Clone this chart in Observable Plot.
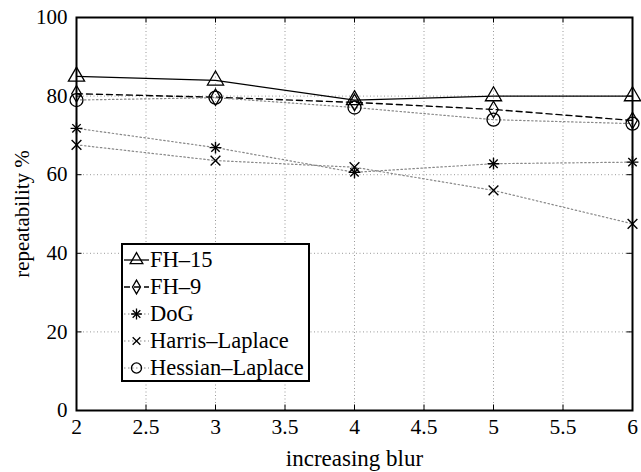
<!DOCTYPE html>
<html>
<head>
<meta charset="utf-8">
<script src="https://cdn.jsdelivr.net/npm/d3@7"></script>
<script src="https://cdn.jsdelivr.net/npm/@observablehq/plot@0.6"></script>
<style>
  html, body { margin: 0; padding: 0; background: #fff; }
  #wrap { position: relative; width: 641px; height: 472px; font-family: "Liberation Serif", serif; }
  #wrap svg text { font-family: "Liberation Serif", serif; }
  #legend { position: absolute; left: 121px; top: 243px; width: 185px; height: 135px;
    border: 2px solid #000; background: #fff; font-family: "Liberation Serif", serif; font-size: 22.5px; }
  .row { position: absolute; left: 0; height: 26px; display: flex; align-items: center; }
  .row svg { display: block; }
  .row span { margin-left: 0px; white-space: nowrap; }
</style>
</head>
<body>
<div id="wrap"></div>
<script>
const blur = [2, 3, 4, 5, 6];
const seriesNames = ["FH-15", "FH-9", "DoG", "Harris-Laplace", "Hessian-Laplace"];
const legendLabels = ["FH\u201315", "FH\u20139", "DoG", "Harris\u2013Laplace", "Hessian\u2013Laplace"];
const fh15 = [85, 84, 79, 80, 80];
const fh9 = [80.6, 79.7, 78.4, 76.6, 73.8];
const dog = [71.8, 66.9, 60.6, 62.8, 63.2];
const harris = [67.6, 63.6, 61.9, 56, 47.5];
const hessian = [79, 79.6, 77.1, 74, 73];
const xTicks = [2, 2.5, 3, 3.5, 4, 4.5, 5, 5.5, 6];
const yTicks = [0, 20, 40, 60, 80, 100];

const valuesBySeries = [fh15, fh9, dog, harris, hessian];
const rows = [];
seriesNames.forEach((s, i) => blur.forEach((b, j) => rows.push({series: s, blur: b, value: valuesBySeries[i][j]})));
const only = s => rows.filter(d => d.series === s);

const styles = {
  "FH-15": {stroke: "#000", strokeWidth: 1.3},
  "FH-9": {stroke: "#000", strokeWidth: 1.4, strokeDasharray: "6,4"},
  "DoG": {stroke: "#888", strokeWidth: 1.2, strokeDasharray: "1.5,2.5"},
  "Harris-Laplace": {stroke: "#888", strokeWidth: 1.2, strokeDasharray: "1.5,2.5"},
  "Hessian-Laplace": {stroke: "#888", strokeWidth: 1.2, strokeDasharray: "1.5,2.5"}
};

const font = "Liberation Serif";
const innerX = xTicks.slice(1, -1);
const innerY = yTicks.slice(1, -1);
const fmt = d => String(d);

const chart = Plot.plot({
  width: 641,
  height: 472,
  marginLeft: 76,
  marginRight: 9,
  marginTop: 17,
  marginBottom: 62,
  style: {fontFamily: font, fontSize: "20px", background: "#fff", color: "#000"},
  x: {domain: [2, 6]},
  y: {domain: [0, 100]},
  marks: [
    Plot.gridX(innerX, {stroke: "#999", strokeOpacity: 1, strokeWidth: 1, strokeDasharray: "1,2.5"}),
    Plot.gridY(innerY, {stroke: "#999", strokeOpacity: 1, strokeWidth: 1, strokeDasharray: "1,2.5"}),
    Plot.ruleX(innerX, {y1: 0, y2: 1.4, stroke: "#000"}),
    Plot.ruleX(innerX, {y1: 98.6, y2: 100, stroke: "#000"}),
    Plot.ruleY(innerY, {x1: 2, x2: 2.04, stroke: "#000"}),
    Plot.ruleY(innerY, {x1: 5.96, x2: 6, stroke: "#000"}),
    Plot.axisX(xTicks, {tickSize: 0, tickPadding: 8, fontSize: 21.5, tickFormat: fmt, label: null}),
    Plot.axisX({ticks: [], tickSize: 0, fontSize: 23, label: "increasing blur", labelAnchor: "center", labelOffset: 55, labelArrow: "none"}),
    Plot.axisY(yTicks, {tickSize: 0, tickPadding: 9, fontSize: 21, tickFormat: fmt, label: null}),
    Plot.axisY({ticks: [], tickSize: 0, fontSize: 21, label: "repeatability %", labelAnchor: "center", labelOffset: 62, labelArrow: "none"}),
    ...seriesNames.map(s => Plot.line(only(s), {x: "blur", y: "value", ...styles[s]})),
    Plot.dot(only("FH-15"), {x: "blur", y: "value", symbol: "triangle", r: 6, stroke: "#000", strokeWidth: 1.3, fill: "none"}),
    Plot.dot(only("FH-9"), {x: "blur", y: "value", symbol: "diamond", r: 5, stroke: "#000", strokeWidth: 1.3, fill: "none"}),
    Plot.dot(only("DoG"), {x: "blur", y: "value", symbol: "plus", r: 3.9, stroke: "#000", strokeWidth: 1.4}),
    Plot.dot(only("DoG"), {x: "blur", y: "value", symbol: "times", r: 3.9, stroke: "#000", strokeWidth: 1.4}),
    Plot.dot(only("Harris-Laplace"), {x: "blur", y: "value", symbol: "times", r: 4.5, stroke: "#000", strokeWidth: 1.4}),
    Plot.dot(only("Hessian-Laplace"), {x: "blur", y: "value", symbol: "circle", r: 6.5, stroke: "#000", strokeWidth: 1.3, fill: "none"}),
    Plot.frame({stroke: "#000", strokeWidth: 2})
  ]
});

const wrap = document.getElementById("wrap");
wrap.appendChild(chart);

// legend overlay
const legend = document.createElement("div");
legend.id = "legend";
const symbolFor = {
  "FH-15": d3.symbol(d3.symbolTriangle, 70),
  "FH-9": d3.symbol(d3.symbolDiamond, 55),
  "DoG": null,
  "Harris-Laplace": d3.symbol(d3.symbolTimes, 40),
  "Hessian-Laplace": d3.symbol(d3.symbolCircle, 80)
};
seriesNames.forEach((s, i) => {
  const row = document.createElement("div");
  row.className = "row";
  row.style.top = (2 + i * 27) + "px";
  const st = styles[s];
  let sym = "";
  if (s === "DoG") {
    sym = `<path d="${d3.symbol(d3.symbolPlus, 40)()}" stroke="#000" stroke-width="1.3" fill="none"/>` +
          `<path d="${d3.symbol(d3.symbolTimes, 40)()}" stroke="#000" stroke-width="1.3" fill="none"/>`;
  } else {
    sym = `<path d="${symbolFor[s]()}" stroke="#000" stroke-width="1.3" fill="none"/>`;
  }
  row.innerHTML = `<svg width="27" height="26"><line x1="1" x2="26" y1="13" y2="13" stroke="${st.stroke}" stroke-width="${st.strokeWidth}" stroke-dasharray="${st.strokeDasharray || ""}"/><g transform="translate(13.5,13)">${sym}</g></svg><span>${legendLabels[i]}</span>`;
  legend.appendChild(row);
});
wrap.appendChild(legend);
</script>
</body>
</html>
